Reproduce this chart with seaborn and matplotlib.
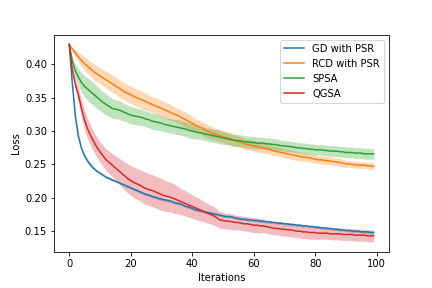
import matplotlib
matplotlib.use("Agg")
import matplotlib.pyplot as plt
import numpy as np
import pandas as pd
import seaborn as sns

# iterations 0..99
iterations = list(range(100))

methods = ["GD with PSR", "RCD with PSR", "SPSA", "QGSA"]
colors = ["#1f77b4", "#ff7f0e", "#2ca02c", "#d62728"]

# mean loss per iteration
gd_loss = [
    0.430, 0.372, 0.322, 0.292, 0.274, 0.263, 0.255, 0.249, 0.244, 0.240,
    0.237, 0.234, 0.231, 0.229, 0.227, 0.225, 0.223, 0.221, 0.219, 0.217,
    0.215, 0.213, 0.211, 0.209, 0.207, 0.205, 0.204, 0.202, 0.201, 0.199,
    0.198, 0.197, 0.196, 0.195, 0.193, 0.192, 0.191, 0.189, 0.187, 0.186,
    0.184, 0.182, 0.181, 0.180, 0.179, 0.178, 0.177, 0.176, 0.175, 0.174,
    0.173, 0.172, 0.172, 0.171, 0.170, 0.169, 0.168, 0.168, 0.167, 0.167,
    0.166, 0.166, 0.165, 0.165, 0.164, 0.164, 0.163, 0.163, 0.162, 0.162,
    0.161, 0.161, 0.160, 0.160, 0.159, 0.159, 0.158, 0.158, 0.157, 0.157,
    0.156, 0.156, 0.155, 0.155, 0.154, 0.154, 0.153, 0.153, 0.152, 0.152,
    0.151, 0.151, 0.150, 0.150, 0.150, 0.149, 0.149, 0.149, 0.148, 0.148,
]
rcd_loss = [
    0.430, 0.423, 0.417, 0.411, 0.406, 0.401, 0.397, 0.393, 0.389, 0.386,
    0.383, 0.380, 0.377, 0.374, 0.371, 0.368, 0.365, 0.362, 0.359, 0.357,
    0.355, 0.352, 0.350, 0.348, 0.346, 0.344, 0.342, 0.340, 0.338, 0.336,
    0.334, 0.332, 0.330, 0.328, 0.326, 0.324, 0.322, 0.319, 0.317, 0.314,
    0.312, 0.309, 0.307, 0.305, 0.302, 0.300, 0.298, 0.296, 0.295, 0.293,
    0.292, 0.290, 0.289, 0.287, 0.286, 0.284, 0.283, 0.281, 0.280, 0.279,
    0.278, 0.277, 0.276, 0.275, 0.274, 0.273, 0.271, 0.270, 0.269, 0.268,
    0.267, 0.266, 0.265, 0.264, 0.263, 0.262, 0.261, 0.261, 0.260, 0.259,
    0.258, 0.257, 0.257, 0.256, 0.256, 0.255, 0.254, 0.254, 0.253, 0.252,
    0.251, 0.251, 0.250, 0.250, 0.249, 0.249, 0.249, 0.248, 0.248, 0.247,
]
spsa_loss = [
    0.430, 0.405, 0.390, 0.381, 0.373, 0.367, 0.363, 0.359, 0.355, 0.351,
    0.347, 0.343, 0.340, 0.337, 0.334, 0.333, 0.332, 0.330, 0.328, 0.326,
    0.324, 0.323, 0.322, 0.321, 0.320, 0.318, 0.317, 0.315, 0.314, 0.313,
    0.312, 0.310, 0.309, 0.308, 0.307, 0.306, 0.305, 0.304, 0.303, 0.301,
    0.300, 0.299, 0.298, 0.297, 0.296, 0.295, 0.294, 0.293, 0.292, 0.291,
    0.290, 0.289, 0.288, 0.287, 0.286, 0.286, 0.285, 0.284, 0.284, 0.283,
    0.283, 0.282, 0.282, 0.282, 0.281, 0.281, 0.280, 0.280, 0.279, 0.278,
    0.278, 0.277, 0.277, 0.276, 0.275, 0.275, 0.274, 0.274, 0.273, 0.273,
    0.272, 0.272, 0.272, 0.271, 0.271, 0.270, 0.270, 0.270, 0.269, 0.269,
    0.268, 0.268, 0.268, 0.267, 0.267, 0.267, 0.266, 0.266, 0.266, 0.266,
]
qgsa_loss = [
    0.430, 0.392, 0.370, 0.354, 0.334, 0.316, 0.303, 0.293, 0.284, 0.276,
    0.269, 0.263, 0.257, 0.253, 0.249, 0.245, 0.241, 0.237, 0.233, 0.229,
    0.226, 0.223, 0.221, 0.219, 0.216, 0.214, 0.212, 0.211, 0.209, 0.207,
    0.205, 0.203, 0.202, 0.201, 0.199, 0.197, 0.195, 0.193, 0.191, 0.189,
    0.187, 0.185, 0.183, 0.181, 0.179, 0.177, 0.175, 0.173, 0.170, 0.167,
    0.166, 0.165, 0.165, 0.164, 0.163, 0.163, 0.162, 0.161, 0.161, 0.160,
    0.159, 0.159, 0.158, 0.158, 0.157, 0.156, 0.155, 0.154, 0.154, 0.153,
    0.153, 0.152, 0.152, 0.151, 0.150, 0.150, 0.149, 0.149, 0.148, 0.148,
    0.148, 0.147, 0.147, 0.147, 0.147, 0.146, 0.146, 0.146, 0.146, 0.145,
    0.145, 0.145, 0.145, 0.144, 0.144, 0.144, 0.144, 0.143, 0.143, 0.143,
]

# half width of the shaded band
gd_err = [
    0.000, 0.003, 0.004, 0.004, 0.003, 0.003, 0.003, 0.003, 0.002, 0.002,
    0.002, 0.002, 0.002, 0.002, 0.002, 0.002, 0.002, 0.002, 0.002, 0.002,
    0.002, 0.002, 0.002, 0.002, 0.002, 0.002, 0.002, 0.002, 0.002, 0.002,
    0.002, 0.002, 0.002, 0.002, 0.002, 0.002, 0.002, 0.002, 0.002, 0.002,
    0.002, 0.002, 0.002, 0.002, 0.002, 0.002, 0.002, 0.002, 0.002, 0.002,
    0.002, 0.002, 0.002, 0.002, 0.002, 0.002, 0.002, 0.002, 0.002, 0.002,
    0.002, 0.002, 0.002, 0.002, 0.002, 0.002, 0.002, 0.002, 0.002, 0.002,
    0.002, 0.002, 0.002, 0.002, 0.002, 0.002, 0.002, 0.002, 0.002, 0.002,
    0.002, 0.002, 0.002, 0.002, 0.002, 0.002, 0.002, 0.002, 0.002, 0.002,
    0.002, 0.002, 0.002, 0.002, 0.002, 0.002, 0.002, 0.002, 0.002, 0.002,
]
rcd_err = [
    0.000, 0.003, 0.005, 0.007, 0.009, 0.010, 0.011, 0.011, 0.012, 0.012,
    0.012, 0.012, 0.013, 0.013, 0.013, 0.013, 0.013, 0.013, 0.013, 0.013,
    0.013, 0.013, 0.013, 0.013, 0.013, 0.013, 0.012, 0.012, 0.012, 0.012,
    0.012, 0.012, 0.012, 0.012, 0.011, 0.011, 0.011, 0.011, 0.011, 0.011,
    0.010, 0.010, 0.010, 0.010, 0.010, 0.010, 0.010, 0.009, 0.009, 0.009,
    0.009, 0.009, 0.009, 0.009, 0.009, 0.008, 0.008, 0.008, 0.008, 0.008,
    0.008, 0.008, 0.008, 0.008, 0.008, 0.007, 0.007, 0.007, 0.007, 0.007,
    0.007, 0.007, 0.007, 0.007, 0.007, 0.007, 0.006, 0.006, 0.006, 0.006,
    0.006, 0.006, 0.006, 0.006, 0.006, 0.006, 0.006, 0.006, 0.006, 0.006,
    0.005, 0.005, 0.005, 0.005, 0.005, 0.005, 0.005, 0.005, 0.005, 0.005,
]
spsa_err = [
    0.000, 0.006, 0.010, 0.013, 0.015, 0.016, 0.017, 0.017, 0.017, 0.017,
    0.016, 0.016, 0.016, 0.015, 0.015, 0.014, 0.014, 0.014, 0.013, 0.013,
    0.013, 0.013, 0.013, 0.012, 0.012, 0.012, 0.012, 0.012, 0.012, 0.012,
    0.011, 0.011, 0.011, 0.011, 0.011, 0.011, 0.011, 0.011, 0.011, 0.011,
    0.011, 0.010, 0.010, 0.010, 0.010, 0.010, 0.010, 0.010, 0.010, 0.010,
    0.010, 0.009, 0.009, 0.009, 0.009, 0.009, 0.009, 0.009, 0.009, 0.009,
    0.009, 0.009, 0.009, 0.009, 0.009, 0.009, 0.009, 0.009, 0.008, 0.008,
    0.008, 0.008, 0.008, 0.008, 0.008, 0.008, 0.008, 0.008, 0.008, 0.008,
    0.008, 0.008, 0.008, 0.008, 0.008, 0.008, 0.008, 0.008, 0.008, 0.008,
    0.008, 0.008, 0.008, 0.008, 0.008, 0.008, 0.008, 0.008, 0.008, 0.008,
]
qgsa_err = [
    0.000, 0.004, 0.008, 0.011, 0.013, 0.015, 0.015, 0.015, 0.015, 0.015,
    0.015, 0.016, 0.016, 0.017, 0.017, 0.018, 0.019, 0.020, 0.021, 0.022,
    0.022, 0.023, 0.023, 0.023, 0.024, 0.024, 0.024, 0.024, 0.024, 0.024,
    0.024, 0.023, 0.023, 0.022, 0.022, 0.021, 0.020, 0.019, 0.019, 0.018,
    0.018, 0.017, 0.017, 0.016, 0.015, 0.015, 0.014, 0.014, 0.013, 0.013,
    0.012, 0.012, 0.012, 0.012, 0.011, 0.011, 0.011, 0.011, 0.011, 0.011,
    0.011, 0.011, 0.011, 0.010, 0.010, 0.010, 0.010, 0.010, 0.010, 0.010,
    0.010, 0.010, 0.010, 0.010, 0.010, 0.010, 0.010, 0.010, 0.010, 0.010,
    0.010, 0.010, 0.009, 0.009, 0.009, 0.009, 0.009, 0.009, 0.009, 0.009,
    0.009, 0.009, 0.009, 0.009, 0.009, 0.009, 0.009, 0.009, 0.009, 0.009,
]

losses = [gd_loss, rcd_loss, spsa_loss, qgsa_loss]
errs = [gd_err, rcd_err, spsa_err, qgsa_err]

fig, ax = plt.subplots(figsize=(6, 4), dpi=72)
fig.subplots_adjust(left=0.125, right=0.9, top=0.88, bottom=0.126)

for name, col, loss, err in zip(methods, colors, losses, errs):
    loss = np.array(loss)
    err = np.array(err)
    sns.lineplot(x=iterations, y=loss, color=col, label=name, ax=ax, linewidth=1.5)
    ax.fill_between(iterations, loss - err, loss + err, color=col, alpha=0.3, linewidth=0)

ax.set_xlabel("Iterations")
ax.set_ylabel("Loss")
ax.legend(loc="upper right")

fig.savefig("out.png", dpi=72)
